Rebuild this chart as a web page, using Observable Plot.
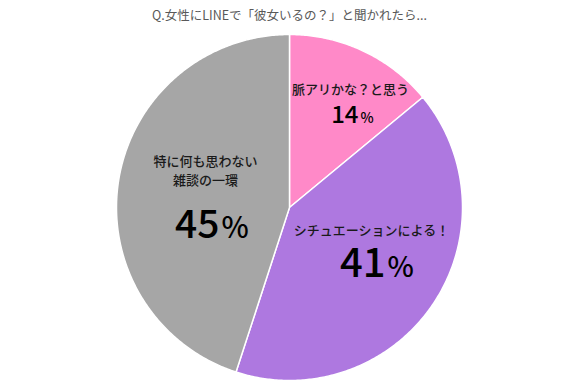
<!DOCTYPE html>
<html><head><meta charset="utf-8">
<script src="https://cdn.jsdelivr.net/npm/d3@7"></script>
<script src="https://cdn.jsdelivr.net/npm/@observablehq/plot@0.6"></script>
<style>body{margin:0;background:#fff;} svg{display:block;}</style>
</head><body><div id="chart"></div>
<script>
const title = "Q.女性にLINEで「彼女いるの？」と聞かれたら...";
const categories = ["脈アリかな？と思う", "シチュエーションによる！", "特に何も思わない\n雑談の一環"];
const values = [14, 41, 45];

const palette = ["#FF89C8", "#AE78E0", "#A6A6A6"];
const W = 578, H = 391, cx = 289, cy = 207, R = 173;
const font = "'Noto Sans CJK JP', 'Noto Sans', sans-serif";

const arcs = d3.pie().sort(null)(values);
const pts = [];
arcs.forEach((a, i) => {
  const cat = categories[i];
  pts.push({cat, x: cx, y: cy});
  const n = Math.max(2, Math.ceil((a.endAngle - a.startAngle) / 0.01));
  for (let k = 0; k <= n; k++) {
    const t = a.startAngle + (a.endAngle - a.startAngle) * k / n;
    pts.push({cat, x: cx + R * Math.sin(t), y: cy - R * Math.cos(t)});
  }
});

// label layout per slice: name anchor, number baseline, split x between digits and %
const layout = [
  {nx: 350, ny: 87, bx: 358, by: 122, ds: 24, ps: 14},
  {nx: 371, ny: 228, bx: 385, by: 276.5, ds: 40, ps: 28},
  {nx: 205, ny: 168.5, bx: 219, by: 237.5, ds: 39, ps: 29}
];
const labels = categories.map((c, i) => ({cat: c, v: values[i], ...layout[i]}));

const chart = Plot.plot({
  width: W, height: H,
  marginTop: 0, marginRight: 0, marginBottom: 0, marginLeft: 0,
  x: {domain: [0, W], range: [0, W], axis: null},
  y: {domain: [0, H], range: [0, H], axis: null},
  color: {domain: categories, range: palette},
  style: {fontFamily: font},
  marks: [
    Plot.line(pts, {x: "x", y: "y", z: "cat", fill: "cat", stroke: "white", strokeWidth: 1.5, curve: "linear-closed"}),
    Plot.text([title], {x: () => cx, y: () => 15, text: d => d, fontSize: 12.5, fill: "#595959", fontFamily: font}),
    Plot.text(labels, {x: "nx", y: "ny", text: "cat", fontSize: 13, lineHeight: 1.46, fill: "#1a1a1a", fontWeight: 500, fontFamily: font}),
    Plot.text(labels, {x: "bx", y: "by", text: d => String(d.v), fontSize: d => d.ds, textAnchor: "end", lineAnchor: "bottom", fill: "#000", fontWeight: 500, fontFamily: font}),
    Plot.text(labels, {x: d => d.bx + 2, y: "by", text: () => "%", fontSize: d => d.ps, textAnchor: "start", lineAnchor: "bottom", fill: "#000", fontWeight: 500, fontFamily: font})
  ]
});
document.getElementById("chart").appendChild(chart);
</script></body></html>
